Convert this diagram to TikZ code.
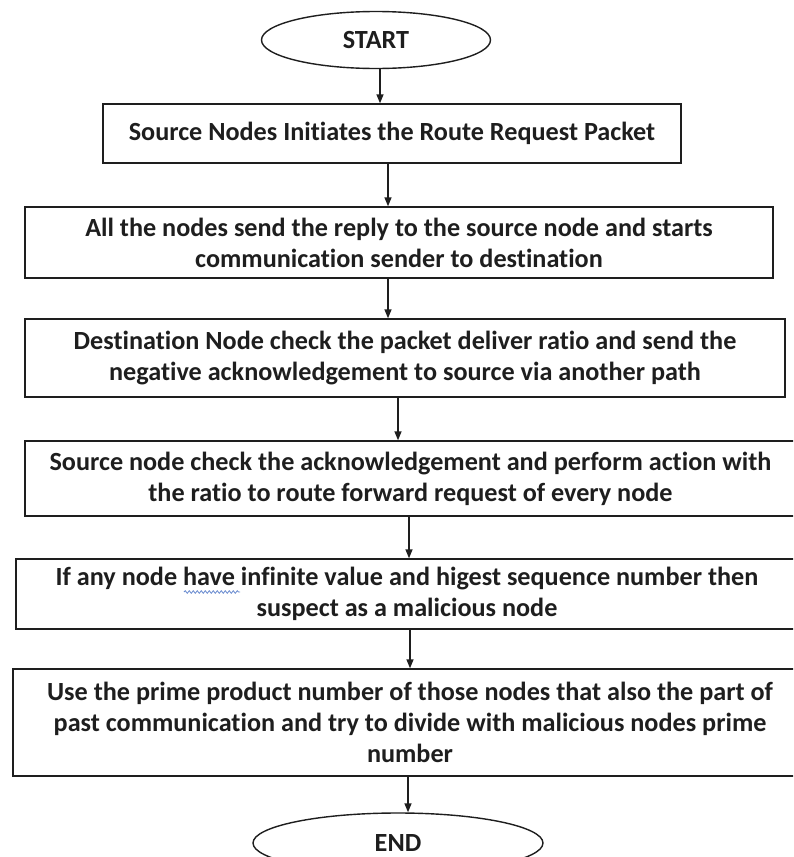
\documentclass[tikz,border=0pt]{standalone}
\usepackage{fontspec}
\setmainfont{Carlito}[Ligatures=NoCommon]
\usetikzlibrary{shapes.geometric,arrows.meta,decorations.pathmorphing}
\definecolor{ink}{HTML}{1E1E1E}
\definecolor{spell}{HTML}{6A8CD0}
\begin{document}
\begin{tikzpicture}[x=1pt,y=-1pt,
  txt/.style={font=\fontsize{26.2}{30.8}\selectfont\bfseries,text=ink},
  box/.style={draw=ink,line width=1.4pt,rectangle,inner sep=0pt,align=center,txt},
  term/.style={draw=ink,line width=1.4pt,ellipse,inner sep=0pt,txt},
  arr/.style={draw=ink,line width=1.4pt,-{Triangle[length=9pt,width=7pt]}}]
\useasboundingbox (0,0) rectangle (793,857);
\clip (0,0) rectangle (793,857);
\fill[white] (0,0) rectangle (793,857);

\node[term,minimum width=229pt,minimum height=57pt] (start) at (376,40) {START};
\node[box,minimum width=578pt,minimum height=59pt] (b1) at (392,133.5)
  {\raisebox{4pt}{Source Nodes Initiates the Route Request Packet}};
\node[box,minimum width=748pt,minimum height=71pt] (b2) at (399,242.5)
  {All the nodes send the reply to the source node and starts\\communication sender to destination};
\node[box,minimum width=760pt,minimum height=78pt] (b3) at (405,358)
  {Destination Node check the packet deliver ratio and send the\\negative acknowledgement to source via another path};
\node[box,minimum width=771pt,minimum height=75pt] (b4) at (410.5,478.5)
  {Source node check the acknowledgement and perform action with\\the ratio to route forward request of every node};
\node[box,minimum width=782pt,minimum height=70pt] (b5) at (407,594)
  {If any node have infinite value and higest sequence number then\\suspect as a malicious node};
\node[box,minimum width=794pt,minimum height=107pt] (b6) at (410,722.5)
  {Use the prime product number of those nodes that also the part of\\past communication and try to divide with malicious nodes prime\\number};
\node[term,minimum width=290pt,minimum height=60pt] (end) at (398,843) {END};

\draw[arr] (start.south -| 380,0) -- (b1.north -| 380,0);
\draw[arr] (b1.south -| 388,0) -- (b2.north -| 388,0);
\draw[arr] (b2.south -| 388,0) -- (b3.north -| 388,0);
\draw[arr] (b3.south -| 398,0) -- (b4.north -| 398,0);
\draw[arr] (b4.south -| 409,0) -- (b5.north -| 409,0);
\draw[arr] (b5.south -| 410,0) -- (b6.north -| 410,0);
\draw[arr] (b6.south -| 408,0) -- (end.north -| 408,0);

\draw[spell,line width=0.8pt,decorate,decoration={snake,segment length=4pt,amplitude=1.3pt}]
  (184,592) -- (240,592);
\end{tikzpicture}
\end{document}
